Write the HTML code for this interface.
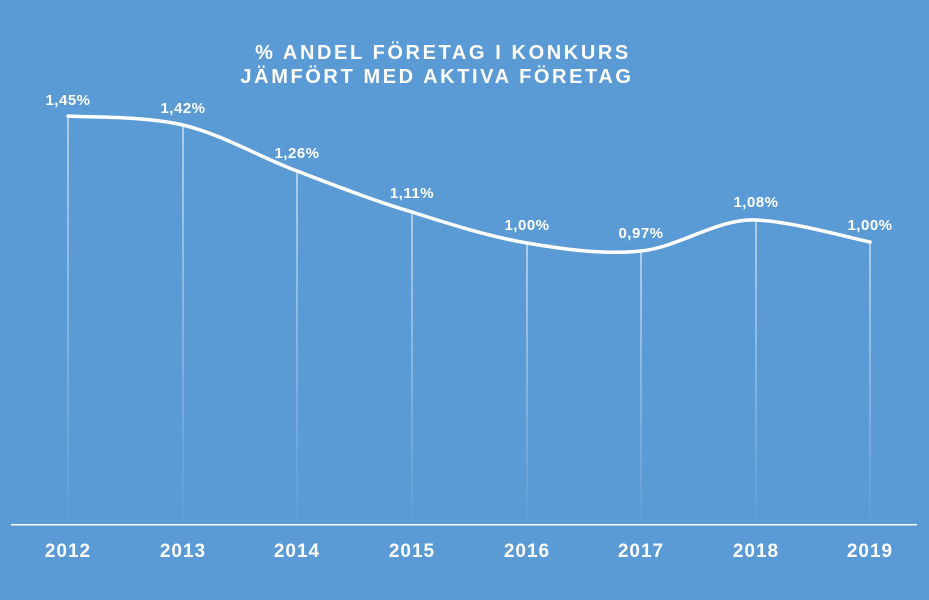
<!DOCTYPE html>
<html><head><meta charset="utf-8"><style>
html,body{margin:0;padding:0;background:#5a9ad5;}
svg{display:block;font-family:"Liberation Sans",sans-serif;font-weight:bold;fill:#fff;}
</style></head><body>
<svg width="929" height="600" viewBox="0 0 929 600">
<defs><linearGradient id="g" x1="0" y1="0" x2="0" y2="1"><stop offset="0" stop-color="#fff" stop-opacity="1"/><stop offset="1" stop-color="#fff" stop-opacity="0.05"/></linearGradient></defs>
<rect width="929" height="600" fill="#5a9ad5"/>
<text x="443" y="59" font-size="20" text-anchor="middle" letter-spacing="2.6">% ANDEL FÖRETAG I KONKURS</text>
<text x="437" y="83" font-size="20" text-anchor="middle" letter-spacing="2.6">JÄMFÖRT MED AKTIVA FÖRETAG</text>
<g fill="url(#g)">
<rect x="67.5" y="116" width="1" height="408"/>
<rect x="182.5" y="125" width="1" height="399"/>
<rect x="296.5" y="171" width="1" height="353"/>
<rect x="411.5" y="212" width="1" height="312"/>
<rect x="526.5" y="243" width="1" height="281"/>
<rect x="640.5" y="251" width="1" height="273"/>
<rect x="755.5" y="220" width="1" height="304"/>
<rect x="869.5" y="242" width="1" height="282"/>
</g>
<rect x="11" y="524" width="906" height="1.5" fill="#fff"/>
<path d="M68,116 C87,117.5 144.8,115.8 183,125 C221.2,134.2 258.8,156.5 297,171 C335.2,185.5 373.7,200.7 412,212 C450.3,224.3 488.8,236.5 527,243 C565.2,249.5 602.8,254.8 641,251 C679.2,247.2 717.8,218.2 756,220 C794.2,221.8 851,238.3 870,242" fill="none" stroke="#fff" stroke-width="3.5" stroke-linecap="round"/>
<g font-size="15" text-anchor="middle" letter-spacing="0.5">
<text x="68" y="105">1,45%</text>
<text x="183" y="113">1,42%</text>
<text x="297" y="158">1,26%</text>
<text x="412" y="198">1,11%</text>
<text x="527" y="230">1,00%</text>
<text x="641" y="238">0,97%</text>
<text x="756" y="207">1,08%</text>
<text x="870" y="230">1,00%</text>
</g>
<g font-size="19" text-anchor="middle" letter-spacing="1">
<text x="68" y="557">2012</text>
<text x="183" y="557">2013</text>
<text x="297" y="557">2014</text>
<text x="412" y="557">2015</text>
<text x="527" y="557">2016</text>
<text x="641" y="557">2017</text>
<text x="756" y="557">2018</text>
<text x="870" y="557">2019</text>
</g>
</svg>
</body></html>
